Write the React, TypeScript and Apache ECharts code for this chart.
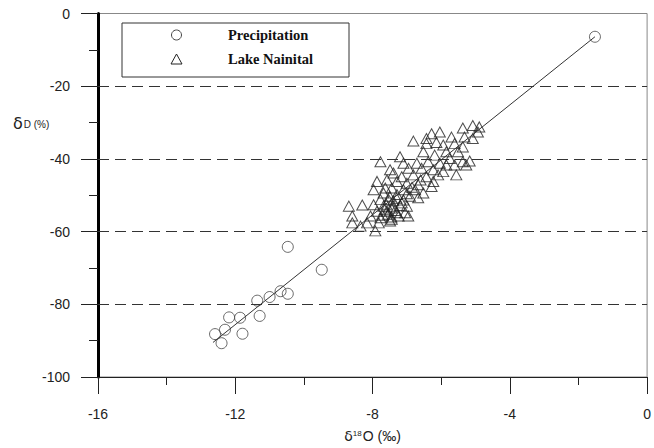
import React, { useEffect, useRef } from "react";
import * as echarts from "echarts";

// δ18O (‰), δD (‰)
const precipitation: [number, number][] = [
  [-10.47, -64.2], [-9.48, -70.5], [-10.68, -76.4], [-10.47, -77.1],
  [-11.0, -78.0], [-11.36, -79.0], [-11.29, -83.2], [-11.86, -83.7],
  [-12.18, -83.6], [-12.3, -87.0], [-12.59, -88.2], [-11.79, -88.1],
  [-12.4, -90.7], [-1.52, -6.4],
];

const lakeNainital: [number, number][] = [
  [-5.08, -30.8], [-5.37, -31.5], [-4.93, -32.6], [-6.04, -32.6], [-6.28, -33.1],
  [-5.7, -34.0], [-5.32, -34.0], [-5.08, -34.4], [-6.81, -35.1], [-6.43, -35.8],
  [-6.14, -35.5], [-5.94, -36.2], [-5.61, -35.8], [-5.37, -36.7], [-6.52, -38.05],
  [-5.85, -38.05], [-5.51, -38.05], [-6.19, -38.96], [-5.75, -39.9], [-7.2, -39.4],
  [-7.77, -40.8], [-6.71, -41.2], [-6.38, -40.8], [-6.04, -41.2], [-5.37, -40.8],
  [-5.17, -40.6], [-5.61, -41.7], [-7.49, -43.0], [-6.95, -42.6], [-6.57, -42.6],
  [-6.23, -43.0], [-5.94, -43.5], [-5.56, -44.4], [-6.81, -44.4], [-7.15, -44.9],
  [-6.43, -44.9], [-7.29, -46.2], [-7.58, -45.8], [-7.87, -46.2], [-7.0, -46.7],
  [-6.67, -47.1], [-6.23, -46.2], [-6.28, -47.6], [-7.97, -48.5], [-7.44, -48.0],
  [-7.1, -48.5], [-6.76, -48.5], [-7.68, -49.4], [-7.29, -49.8], [-6.91, -50.3],
  [-6.67, -50.7], [-7.53, -51.2], [-7.77, -51.2], [-7.15, -52.1], [-7.0, -53.0],
  [-7.39, -53.0], [-7.68, -53.0], [-8.69, -53.0], [-8.3, -52.7], [-7.87, -54.4],
  [-7.58, -54.4], [-7.29, -54.8], [-7.05, -54.8], [-8.06, -55.7], [-7.77, -56.2],
  [-7.44, -56.6], [-8.59, -55.7], [-8.59, -57.6], [-8.16, -57.6], [-7.82, -57.6],
  [-7.49, -57.1], [-8.35, -58.5], [-7.92, -59.8], [-7.24, -55.7], [-6.96, -55.7],
  [-7.97, -52.6], [-7.63, -48.0], [-6.52, -49.4], [-7.39, -43.9], [-6.09, -44.4],
  [-5.85, -41.7], [-6.43, -34.4], [-4.89, -31.2], [-5.27, -41.7], [-7.1, -41.2],
  [-7.6, -52.5], [-7.45, -53.5], [-7.35, -54.2], [-7.55, -55.2], [-7.4, -51.5],
  [-7.2, -52.8], [-7.65, -54.0], [-7.5, -50.3], [-7.3, -50.8], [-7.1, -51.3],
  [-7.0, -49.6], [-7.45, -56.0], [-7.7, -55.5], [-6.85, -47.8], [-6.6, -45.8],
];

// regression line end points
const fitLine: [number, number][] = [
  [-12.65, -90.5],
  [-1.52, -6.4],
];

const xTicks = { min: -16, max: 0, interval: 4 };
const yTicks = { min: -100, max: 0, interval: 20 };
const gridLinesY = [-20, -40, -60, -80];

export default function App() {
  const ref = useRef<HTMLDivElement>(null);
  useEffect(() => {
    if (!ref.current) return;
    const chart = echarts.init(ref.current, undefined, { renderer: "svg" });
    const labelStyle = {
      color: "#222",
      fontFamily: "Liberation Sans, Arial, sans-serif",
      fontSize: 14,
    };
    chart.setOption({
      animation: false,
      backgroundColor: "#fff",
      grid: {
        left: 98,
        right: 1.5,
        top: 13.5,
        bottom: 67,
        show: true,
        borderColor: "#888",
        borderWidth: 1,
        backgroundColor: "transparent",
      },
      xAxis: {
        type: "value",
        min: xTicks.min,
        max: xTicks.max,
        interval: xTicks.interval,
        name: "{d|δ}{s|18}{n|O (‰)}",
        nameLocation: "middle",
        nameGap: 52,
        nameTextStyle: {
          rich: {
            d: { fontFamily: "DejaVu Sans", fontSize: 14, color: "#222" },
            s: { fontFamily: "Liberation Sans", fontSize: 8, color: "#222", verticalAlign: "top", padding: [0, 1, 6, 0] },
            n: { fontFamily: "Liberation Sans", fontSize: 14, color: "#222" },
          },
        },
        axisLine: { show: true, onZero: false, lineStyle: { color: "#222", width: 1 } },
        axisTick: { show: true, length: 17, lineStyle: { color: "#222", width: 1 } },
        minorTick: { show: true, splitNumber: 2, length: 8, lineStyle: { color: "#222", width: 1 } },
        axisLabel: { ...labelStyle, margin: 30 },
        splitLine: { show: false },
      },
      yAxis: {
        type: "value",
        min: yTicks.min,
        max: yTicks.max,
        interval: yTicks.interval,
        axisLine: { show: true, onZero: false, lineStyle: { color: "#000", width: 3 } },
        axisTick: { show: true, length: 17, lineStyle: { color: "#222", width: 1 } },
        minorTick: { show: true, splitNumber: 2, length: 9, lineStyle: { color: "#222", width: 1 } },
        axisLabel: { ...labelStyle, margin: 28 },
        splitLine: { show: false },
      },
      graphic: [
        {
          type: "text",
          left: 13,
          top: 115,
          style: {
            text: "{d|δ}{n|D (%)}",
            rich: {
              d: { fontFamily: "DejaVu Sans", fontSize: 16, fill: "#222" },
              n: { fontFamily: "Liberation Sans", fontSize: 10, fill: "#222", padding: [3, 0, 0, 1] },
            },
          },
        },
        {
          type: "rect",
          shape: { x: 122, y: 23, width: 227, height: 54 },
          style: { fill: "#fff", stroke: "#333", lineWidth: 1 },
          z: 100,
        },
        {
          type: "circle",
          shape: { cx: 176.5, cy: 35, r: 5 },
          style: { fill: "transparent", stroke: "#444", lineWidth: 1 },
          z: 101,
        },
        {
          type: "polygon",
          shape: { points: [[176.5, 54], [182, 64], [171, 64]] },
          style: { fill: "transparent", stroke: "#222", lineWidth: 1 },
          z: 101,
        },
        {
          type: "text",
          x: 228,
          y: 35,
          style: {
            text: "Precipitation",
            fontFamily: "Liberation Serif",
            fontWeight: "bold",
            fontSize: 14.5,
            fill: "#111",
            verticalAlign: "middle",
          },
          z: 101,
        },
        {
          type: "text",
          x: 228,
          y: 59,
          style: {
            text: "Lake Nainital",
            fontFamily: "Liberation Serif",
            fontWeight: "bold",
            fontSize: 14.5,
            fill: "#111",
            verticalAlign: "middle",
          },
          z: 101,
        },
      ],
      series: [
        {
          name: "gridlines",
          type: "line",
          data: [],
          silent: true,
          markLine: {
            silent: true,
            symbol: ["none", "none"],
            label: { show: false },
            lineStyle: { color: "#333", width: 1, type: [11, 6] },
            data: gridLinesY.map((v) => ({ yAxis: v })),
          },
        },
        {
          name: "Precipitation",
          type: "scatter",
          symbol: "circle",
          symbolSize: 11,
          data: precipitation,
          itemStyle: { color: "transparent", borderColor: "#444", borderWidth: 1 },
          z: 3,
        },
        {
          name: "Lake Nainital",
          type: "scatter",
          symbol: "triangle",
          symbolSize: [11, 10],
          data: lakeNainital,
          itemStyle: { color: "transparent", borderColor: "#222", borderWidth: 1 },
          z: 3,
        },
        {
          name: "fit",
          type: "line",
          data: fitLine,
          showSymbol: false,
          symbol: "none",
          lineStyle: { color: "#333", width: 1 },
          z: 4,
        },
      ],
    });
    return () => chart.dispose();
  }, []);
  return (
    <div
      ref={ref}
      style={{ position: "fixed", left: 0, top: 0, width: 654, height: 448, background: "#fff" }}
    />
  );
}
